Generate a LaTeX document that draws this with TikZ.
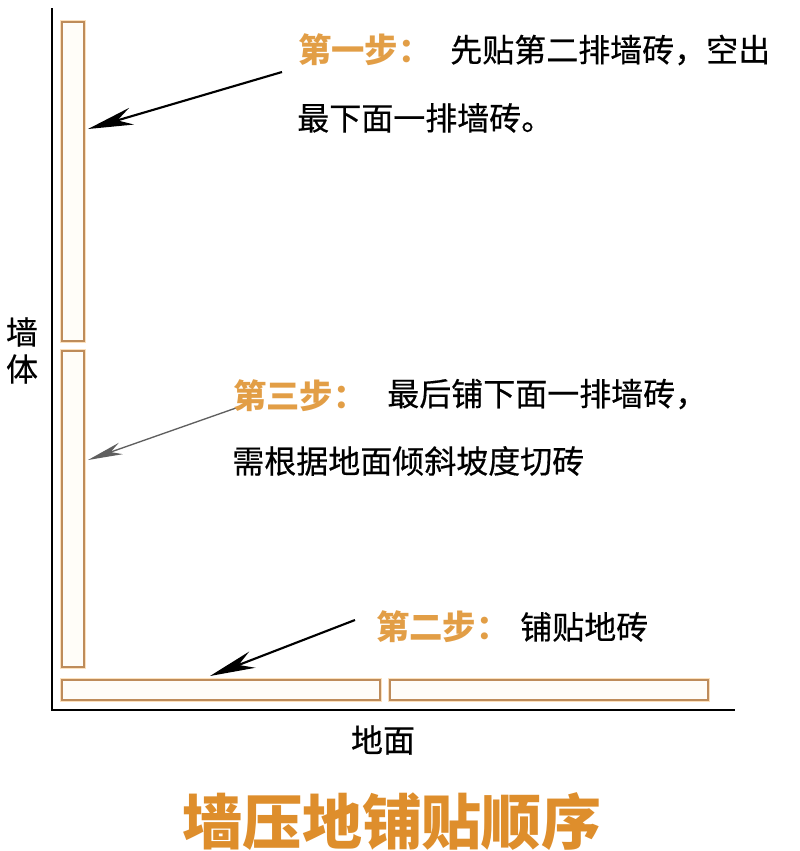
\documentclass[tikz,border=0pt]{standalone}
\usepackage{fontspec}
\newfontfamily\cjk{Noto Sans CJK SC}
\newfontfamily\cjkm[FakeBold=0.4]{Noto Sans CJK SC}
\usetikzlibrary{arrows.meta}
\definecolor{tileline}{RGB}{190,140,90}
\definecolor{tileglow}{RGB}{252,224,188}
\definecolor{tilefill}{RGB}{255,253,248}
\definecolor{steporange}{RGB}{226,158,70}
\definecolor{titleorange}{RGB}{222,142,44}
\definecolor{arrowgray}{RGB}{95,95,95}
\tikzset{
  tileglowline/.style={draw=tileglow, line width=3.2pt},
  tilebox/.style={draw=tileline, line width=1.1pt, fill=tilefill},
  axis/.style={draw=black, line width=1.5pt},
  bigarrow/.style={draw=black, line width=1.6pt, -{Stealth[length=34pt,width=13pt,inset=11pt]}},
  thinarrow/.style={draw=arrowgray, line width=1pt, -{Stealth[length=26pt,width=9pt,inset=8pt]}},
  steplabel/.style={anchor=west, inner sep=0pt, font=\cjk\bfseries\fontsize{25}{28}\selectfont, text=steporange},
  bodytext/.style={anchor=west, inner sep=0pt, font=\cjkm\fontsize{24}{27}\selectfont, text=black},
  axislabel/.style={inner sep=0pt, font=\cjkm\fontsize{24}{27}\selectfont, text=black},
  titletext/.style={inner sep=0pt, font=\cjk\bfseries\fontsize{45}{50}\selectfont, text=titleorange},
}
\begin{document}
\begin{tikzpicture}[x=0.75pt,y=-0.75pt]
\useasboundingbox[fill=white] (0,0) rectangle (800,851);
% axes
\coordinate (top) at (52,8);
\coordinate (origin) at (52,710);
\coordinate (right) at (735,710);
\draw[axis] (top) -- (origin) -- (right);
% tiles
\foreach \a/\b/\c/\d in {62/22/84/341, 62/351/84/667, 62/680/380/700, 390/680/708/700}{
  \draw[tileglowline] (\a,\b) rectangle (\c,\d);
  \draw[tilebox] (\a,\b) rectangle (\c,\d);
}
% arrows
\coordinate (a1s) at (282,72);
\coordinate (a1e) at (88,129);
\coordinate (a3s) at (236,408);
\coordinate (a3e) at (88,460);
\coordinate (a2s) at (355,620);
\coordinate (a2e) at (210,676);
\draw[bigarrow] (a1s) -- (a1e);
\draw[thinarrow] (a3s) -- (a3e);
\draw[bigarrow] (a2s) -- (a2e);
% texts
\node[steplabel] (s1) at (298,50) {第一步：};
\node[bodytext] (t1a) at (450,50) {先贴第二排墙砖，空出};
\node[bodytext] (t1b) at (297,118) {最下面一排墙砖。};
\node[steplabel] (s3) at (233,396) {第三步：};
\node[bodytext] (t3a) at (387,394) {最后铺下面一排墙砖，};
\node[bodytext] (t3b) at (232,461) {需根据地面倾斜坡度切砖};
\node[steplabel] (s2) at (376,627) {第二步：};
\node[bodytext] (t2) at (520,627) {铺贴地砖};
\node[axislabel] (w1) at (22,332) {墙};
\node[axislabel] (w2) at (22,369) {体};
\node[axislabel] (floor) at (383,740) {地面};
\node[titletext] (title) at (392,822) {墙压地铺贴顺序};
\end{tikzpicture}
\end{document}
